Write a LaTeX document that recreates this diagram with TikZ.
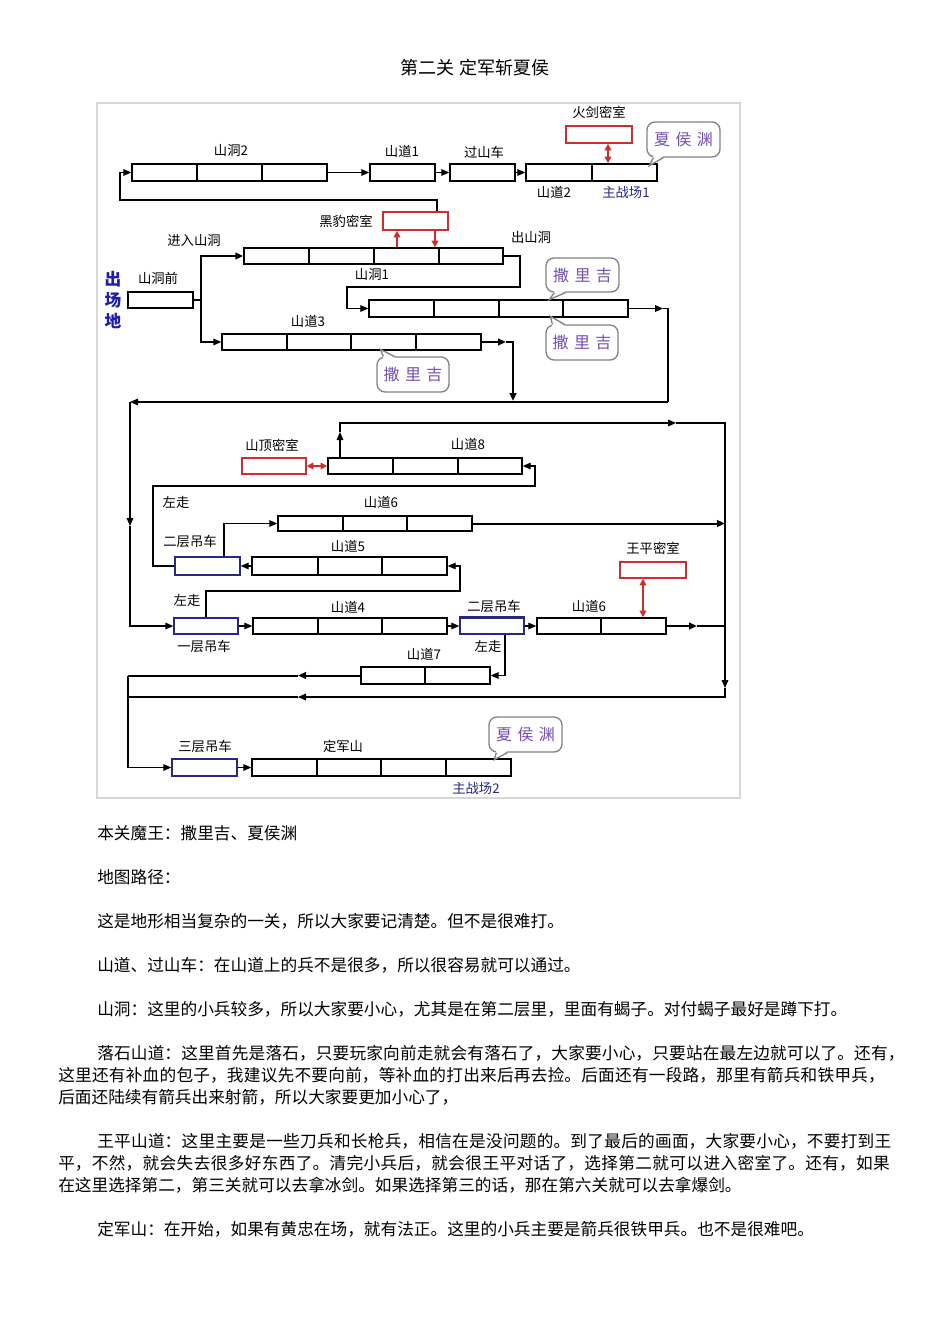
\documentclass[tikz,border=0pt]{standalone}
\usepackage{fontspec}
\setmainfont{Noto Sans CJK SC}
\usetikzlibrary{arrows.meta,calc}
\XeTeXlinebreaklocale "zh"
\XeTeXlinebreakskip=0pt plus 2pt
\definecolor{navy}{RGB}{40,40,130}
\definecolor{rd}{RGB}{210,45,45}
\definecolor{bub}{RGB}{115,80,175}
\definecolor{framec}{RGB}{215,215,215}
\definecolor{bblue}{RGB}{30,30,170}
\definecolor{bubline}{RGB}{130,130,130}
\newcommand\segbox[6][black]{%
  \node[draw=#1, line width=1.1pt, fill=white, inner sep=0pt,
        minimum width={(#4-#3)*0.75pt}, minimum height={(#6-#5)*0.75pt}]
        (#2) at ({(#3+#4)/2},{(#5+#6)/2}) {};}
\newcommand\divs[3]{\foreach \d in {#1} \draw[line width=1.1pt] (\d,#2) -- (\d,#3);}
\newcommand\bubnode[6]{%
  \node[bubble, minimum width={(#3-#2)*0.75pt}, minimum height={(#5-#4)*0.75pt}]
        (#1) at ({(#2+#3)/2},{(#4+#5)/2}) {#6};}
\newcommand\jline[1]{\parindent=0pt\parfillskip=0pt\tolerance=10000\hbadness=10000 #1\par}
\begin{document}
\begin{tikzpicture}[x=0.75pt,y=-0.75pt,
  arr/.style={-{Triangle[length=6pt,width=5pt]}, line width=0.8pt},
  thk/.style={line width=1.5pt},
  rdarr/.style={{Triangle[length=5pt,width=5pt]}-{Triangle[length=5pt,width=5pt]}, draw=rd, line width=1.3pt},
  rdone/.style={-{Triangle[length=5pt,width=5pt]}, draw=rd, line width=1.2pt},
  lab/.style={font=\fontsize{10}{12}\selectfont, inner sep=0pt},
  para/.style={anchor=west, font=\fontsize{12.5}{14}\selectfont, inner sep=0pt},
  jpara/.style={anchor=west, font=\fontsize{12.5}{14}\selectfont, inner sep=0pt, text width=#1},
  bubble/.style={draw=bubline, rounded corners=6pt, line width=1pt, fill=white, text=bub,
                 font=\fontsize{12}{13}\selectfont, inner sep=0pt},
  bubl/.style={draw=bubline, line width=1pt}
]
\useasboundingbox (0,0) rectangle (950,1344);
\fill[white] (0,0) rectangle (950,1344);
\draw[framec, line width=0.8pt] (97,103) rectangle (740,798);

\node[font=\fontsize{13.5}{15}\selectfont] (title) at (475,68) {第二关 定军斩夏侯};

% ---------- boxes ----------
\segbox{sd2}{132}{327}{164}{181} \divs{197,262}{164}{181}
\segbox{sdao1}{370}{435}{164}{181}
\segbox{gsc}{450}{515}{164}{181}
\segbox{sdao2}{526}{657}{164}{181} \divs{592}{164}{181}
\segbox[rd]{hj}{566}{632}{126}{143}
\segbox[rd]{hb}{383}{448}{212}{230}
\segbox{sdong1}{244}{503}{248}{264} \divs{309,374,439}{248}{264}
\segbox{sdong1b}{369}{628}{300}{317} \divs{434,499,563}{300}{317}
\segbox{qian}{128}{193}{292}{308}
\segbox{shd3}{222}{481}{334}{350} \divs{287,351,416}{334}{350}
\segbox{shd8}{328}{522}{458}{474} \divs{393,458}{458}{474}
\segbox[rd]{sdmi}{242}{306}{458}{474}
\segbox{shd6a}{278}{472}{516}{531} \divs{343,407}{516}{531}
\segbox[navy]{ercha}{175}{240}{557}{575}
\segbox{shd5}{252}{447}{557}{575} \divs{318,382}{557}{575}
\segbox[rd]{wp}{620}{686}{562}{578}
\segbox[navy]{yic}{174}{238}{618}{634}
\segbox{shd4}{253}{447}{618}{634} \divs{318,382}{618}{634}
\segbox[navy]{erchb}{460}{524}{618}{634}
\draw[navy, line width=1.8pt] (erchb.north west) -- (erchb.north east);
\segbox{shd6b}{537}{666}{618}{634} \divs{601}{618}{634}
\segbox{shd7}{361}{490}{667}{684} \divs{425}{667}{684}
\segbox[navy]{sanc}{172}{237}{759}{776}
\segbox{djs}{252}{511}{759}{776} \divs{317,381,446}{759}{776}

% ---------- labels ----------
\node[lab] (l_sd2) at (231,151) {山洞2};
\node[lab] (l_sdao1) at (402,151) {山道1};
\node[lab] (l_gsc) at (484,152) {过山车};
\node[lab] (l_hj) at (599,112) {火剑密室};
\node[lab] (l_sdao2) at (554,192) {山道2};
\node[lab, text=navy] (l_zzc1) at (626,192) {主战场1};
\node[lab] (l_hb) at (346,221) {黑豹密室};
\node[lab] (l_jr) at (194,241) {进入山洞};
\node[lab] (l_cs) at (531,237) {出山洞};
\node[lab] (l_sdong1) at (372,275) {山洞1};
\node[lab] (l_qian) at (158,278) {山洞前};
\node[lab] (l_shd3) at (308,321) {山道3};
\node[lab] (l_sdmi) at (272,445) {山顶密室};
\node[lab] (l_shd8) at (468,444) {山道8};
\node[lab] (l_zz1) at (176,502) {左走};
\node[lab] (l_shd6a) at (381,502) {山道6};
\node[lab] (l_ercha) at (190,541) {二层吊车};
\node[lab] (l_shd5) at (348,546) {山道5};
\node[lab] (l_wp) at (653,548) {王平密室};
\node[lab] (l_zz2) at (187,600) {左走};
\node[lab] (l_shd4) at (348,607) {山道4};
\node[lab] (l_erchb) at (494,606) {二层吊车};
\node[lab] (l_shd6b) at (589,606) {山道6};
\node[lab] (l_yic) at (204,646) {一层吊车};
\node[lab] (l_zz3) at (488,646) {左走};
\node[lab] (l_shd7) at (424,654) {山道7};
\node[lab] (l_sanc) at (205,746) {三层吊车};
\node[lab] (l_djs) at (343,746) {定军山};
\node[lab, text=navy] (l_zzc2) at (476,788) {主战场2};
\node[font=\fontsize{12.5}{15.5}\selectfont\bfseries, text=bblue, align=center, inner sep=0pt] (csd) at (113,300) {出\\场\\地};

% ---------- connectors ----------
\draw[arr] (sd2.east) -- (sdao1.west);
\draw[arr] (sdao1.east) -- (gsc.west);
\draw[arr] (gsc.east) -- (sdao2.west);
\draw[rdarr] ([xshift=6.75pt]hj.south) -- ([xshift=6.75pt]hj.south |- sdao2.north);
\coordinate (c1) at (120,200);
\draw[arr] ([xshift=16.1pt]hb.north) |- (c1) |- (sd2.west);
\draw[rdone] ([xshift=-13.9pt]hb.south |- sdong1.north) -- ([xshift=-13.9pt]hb.south);
\draw[rdone] ([xshift=14.6pt]hb.south) -- ([xshift=14.6pt]hb.south |- sdong1.north);

\coordinate (j1) at (201,300);
\draw[line width=1pt] (qian.east) -- (j1);
\draw[arr, thk] (j1) |- (sdong1.west);
\draw[arr] (j1) |- (shd3.west);

\coordinate (c2) at (520,287);
\coordinate (c3) at (347,287);
\draw[arr] (sdong1.east) -| (c2) -- (c3) |- (sdong1b.west);

\coordinate (c4a) at (663,308.5);
\coordinate (c4) at (668,402);
\coordinate (c5) at (130,402);
\coordinate (c7) at (130,526);
\draw[arr] (sdong1b.east) -- (c4a);
\draw[line width=0.8pt] (c4a) -| (c4);
\draw[arr] (c4) -- (c5);
\draw[arr] (c5) -- (c7);
\draw[arr] (c7) |- (yic.west);

\coordinate (c8) at (506,342);
\coordinate (c9) at (513,401);
\draw[arr, thk] (shd3.east) -- (c8);
\draw[arr, thk] (c8) -| (c9);

\coordinate (u1) at (340,432);
\coordinate (u2) at (340,423);
\coordinate (u3) at (676,423);
\coordinate (u4) at (725,423);
\coordinate (u5) at (725,688);
\coordinate (u6) at (725,697);
\coordinate (u7) at (298,697);
\coordinate (u8) at (128,697);
\draw[arr] (shd8.north -| u1) -- (u1);
\draw[arr] (u1) -- (u2) -- (u3);
\draw[arr] (u3) -- (u4) -- (u5);
\draw[arr] (u5) -- (u6) -- (u7);
\draw[arr] (u7) -- (u8) |- (sanc.west);

\draw[arr, thk] (shd6a.east) -- (shd6a.east -| u4);
\coordinate (r2) at (697,626);
\draw[arr, thk] (shd6b.east) -- (shd6b.east -| r2);
\draw[thk] (shd6b.east -| r2) -- (shd6b.east -| u4);

\draw[rdarr] (sdmi.east) -- (shd8.west);
\draw[rdarr] ([xshift=-7.5pt]wp.south) -- ([xshift=-7.5pt]wp.south |- shd6b.north);

\coordinate (l1) at (153,486);
\coordinate (l2) at (535,486);
\draw[arr] (ercha.west) -| (l1) -- (l2) |- (shd8.east);
\coordinate (l3) at (224,523);
\draw[arr] (ercha.north -| l3) |- (shd6a.west);
\draw[arr] (shd5.west) -- (ercha.east);
\coordinate (l4) at (206,591);
\coordinate (l5) at (460,591);
\draw[arr] (yic.north -| l4) -- (l4) -- (l5) |- (shd5.east);
\draw[arr] (yic.east) -- (shd4.west);
\draw[arr] (shd4.east) -- (erchb.west);
\draw[arr] (erchb.east) -- (shd6b.west);
\coordinate (l6) at (505,676);
\draw[arr] (erchb.south -| l6) |- (shd7.east);
\coordinate (l7) at (298,675.5);
\draw[arr, thk] (shd7.west) -- (l7);
\draw[thk] (l7) -- (shd7.west -| u8);
\draw[line width=0.8pt] (shd7.west -| u8) -- (u8);
\draw[arr] (sanc.east) -- (djs.west);

% ---------- speech bubbles ----------
\bubnode{b1}{647}{720}{122}{157}{夏\hspace{4pt}侯\hspace{4pt}渊}
\bubnode{b2}{546}{619}{258}{292}{撒\hspace{4pt}里\hspace{4pt}吉}
\bubnode{b3}{546}{618}{325}{360}{撒\hspace{4pt}里\hspace{4pt}吉}
\bubnode{b4}{377}{449}{357}{392}{撒\hspace{4pt}里\hspace{4pt}吉}
\bubnode{b5}{489}{562}{717}{752}{夏\hspace{4pt}侯\hspace{4pt}渊}
% tails
\fill[white] ($(b1.south west)+(7,-1.5)$) -- ($(b1.south west)+(3,8)$) -- ($(b1.south west)+(17,-1.5)$) -- cycle;
\draw[bubl] ($(b1.south west)+(7,0)$) -- ($(b1.south west)+(3,8)$) -- ($(b1.south west)+(17,0)$);
\fill[white] ($(b2.south west)+(9,-1.5)$) -- ($(b2.south west)+(4,7)$) -- ($(b2.south west)+(20,-1.5)$) -- cycle;
\draw[bubl] ($(b2.south west)+(9,0)$) -- ($(b2.south west)+(4,7)$) -- ($(b2.south west)+(20,0)$);
\fill[white] ($(b3.north west)+(7,1.5)$) -- ($(b3.north west)+(5,-8)$) -- ($(b3.north west)+(19,1.5)$) -- cycle;
\draw[bubl] ($(b3.north west)+(7,0)$) -- ($(b3.north west)+(5,-8)$) -- ($(b3.north west)+(19,0)$);
\fill[white] ($(b4.north west)+(7,1.5)$) -- ($(b4.north west)+(4,-7)$) -- ($(b4.north west)+(18,1.5)$) -- cycle;
\draw[bubl] ($(b4.north west)+(7,0)$) -- ($(b4.north west)+(4,-7)$) -- ($(b4.north west)+(18,0)$);
\fill[white] ($(b5.south west)+(8,-1.5)$) -- ($(b5.south west)+(6,7)$) -- ($(b5.south west)+(19,-1.5)$) -- cycle;
\draw[bubl] ($(b5.south west)+(8,0)$) -- ($(b5.south west)+(6,7)$) -- ($(b5.south west)+(19,0)$);

% ---------- text ----------
\node[para] (p1) at (97,833) {本关魔王：撒里吉、夏侯渊};
\node[para] (p2) at (97,877) {地图路径：};
\node[para] (p3) at (97,921) {这是地形相当复杂的一关，所以大家要记清楚。但不是很难打。};
\node[para] (p4) at (97,965) {山道、过山车：在山道上的兵不是很多，所以很容易就可以通过。};
\node[para] (p5) at (97,1009) {山洞：这里的小兵较多，所以大家要小心，尤其是在第二层里，里面有蝎子。对付蝎子最好是蹲下打。};
\node[jpara=607pt] (p6a) at (97,1053) {\jline{落石山道：这里首先是落石，只要玩家向前走就会有落石了，大家要小心，只要站在最左边就可以了。还有，}};
\node[jpara=622pt] (p6b) at (58,1075) {\jline{这里还有补血的包子，我建议先不要向前，等补血的打出来后再去捡。后面还有一段路，那里有箭兵和铁甲兵，}};
\node[para] (p6c) at (58,1097) {后面还陆续有箭兵出来射箭，所以大家要更加小心了，};
\node[jpara=598pt] (p7a) at (97,1141) {\jline{王平山道：这里主要是一些刀兵和长枪兵，相信在是没问题的。到了最后的画面，大家要小心，不要打到王}};
\node[jpara=627pt] (p7b) at (58,1163) {\jline{平，不然，就会失去很多好东西了。清完小兵后，就会很王平对话了，选择第二就可以进入密室了。还有，如果}};
\node[para] (p7c) at (58,1185) {在这里选择第二，第三关就可以去拿冰剑。如果选择第三的话，那在第六关就可以去拿爆剑。};
\node[para] (p8) at (97,1229) {定军山：在开始，如果有黄忠在场，就有法正。这里的小兵主要是箭兵很铁甲兵。也不是很难吧。};
\end{tikzpicture}
\end{document}
